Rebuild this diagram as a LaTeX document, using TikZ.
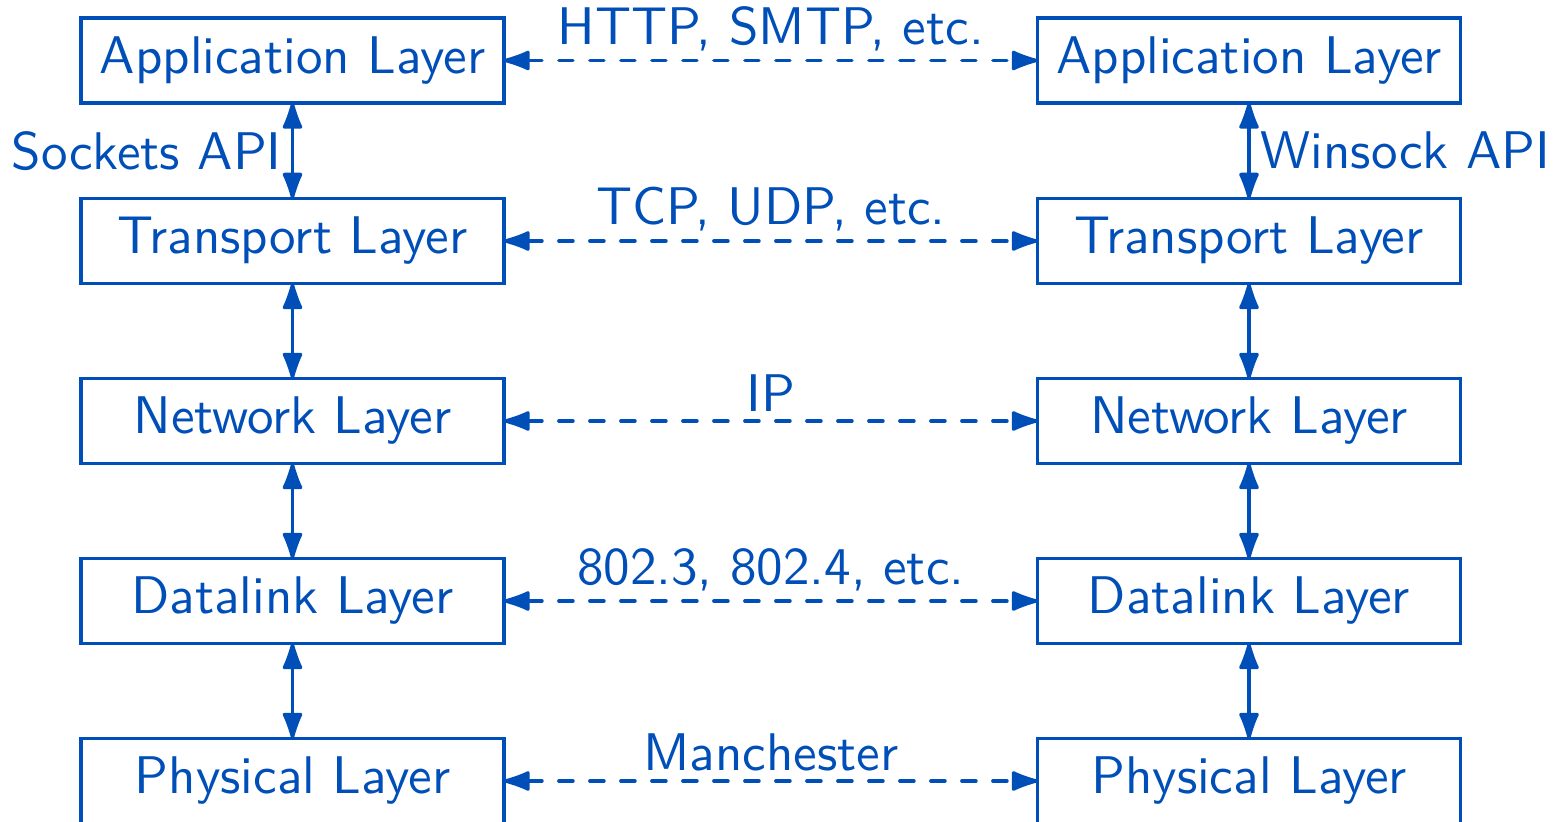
\documentclass[tikz,border=0pt]{standalone}
\usepackage{fontspec}
\setsansfont{lmsans10-regular.otf}
\usetikzlibrary{arrows.meta}
\definecolor{netblue}{RGB}{0,78,183}
\begin{document}
\begin{tikzpicture}[x=0.5pt,y=-0.5pt,
  every node/.style={font=\sffamily\fontsize{26.5pt}{32pt}\selectfont, text=netblue},
  layer/.style={draw=netblue, line width=1.6pt, minimum width=211.5pt, minimum height=42.5pt, inner sep=0pt, outer sep=0pt},
  tipend/.tip={Latex[round,length=16pt,width=11pt]},
  link/.style={draw=netblue, line width=1.8pt, tipend-tipend},
  peer/.style={link, dash pattern=on 7pt off 8.5pt, line cap=round},
  proto/.style={above, inner sep=4pt}]
\useasboundingbox (0,0) rectangle (1555,822);
\clip (0,0) rectangle (1555,822);
% left protocol stack
\node[layer] (la) at (292.5,60.5) {Application Layer};
\node[layer] (lt) at (292.5,241) {Transport Layer};
\node[layer] (ln) at (292.5,421) {Network Layer};
\node[layer] (ld) at (292.5,601) {Datalink Layer};
\node[layer] (lp) at (292.5,781) {Physical Layer};
% right protocol stack
\node[layer] (ra) at (1249,60.5) {Application Layer};
\node[layer] (rt) at (1249,241) {Transport Layer};
\node[layer] (rn) at (1249,421) {Network Layer};
\node[layer] (rd) at (1249,601) {Datalink Layer};
\node[layer] (rp) at (1249,781) {Physical Layer};
% interfaces between adjacent layers
\draw[link] (la) -- node[left, inner sep=4.5pt] {Sockets API} (lt);
\draw[link] (lt) -- (ln);
\draw[link] (ln) -- (ld);
\draw[link] (ld) -- (lp);
\draw[link] (ra) -- node[right, inner sep=5pt] {Winsock API} (rt);
\draw[link] (rt) -- (rn);
\draw[link] (rn) -- (rd);
\draw[link] (rd) -- (rp);
% peer protocols
\draw[peer] (la) -- node[proto] {HTTP, SMTP, etc.} (ra);
\draw[peer] (lt) -- node[proto] {TCP, UDP, etc.} (rt);
\draw[peer] (ln) -- node[proto] {IP} (rn);
\draw[peer] (ld) -- node[proto] {802.3, 802.4, etc.} (rd);
\draw[peer] (lp) -- node[proto] {Manchester} (rp);
\end{tikzpicture}
\end{document}
